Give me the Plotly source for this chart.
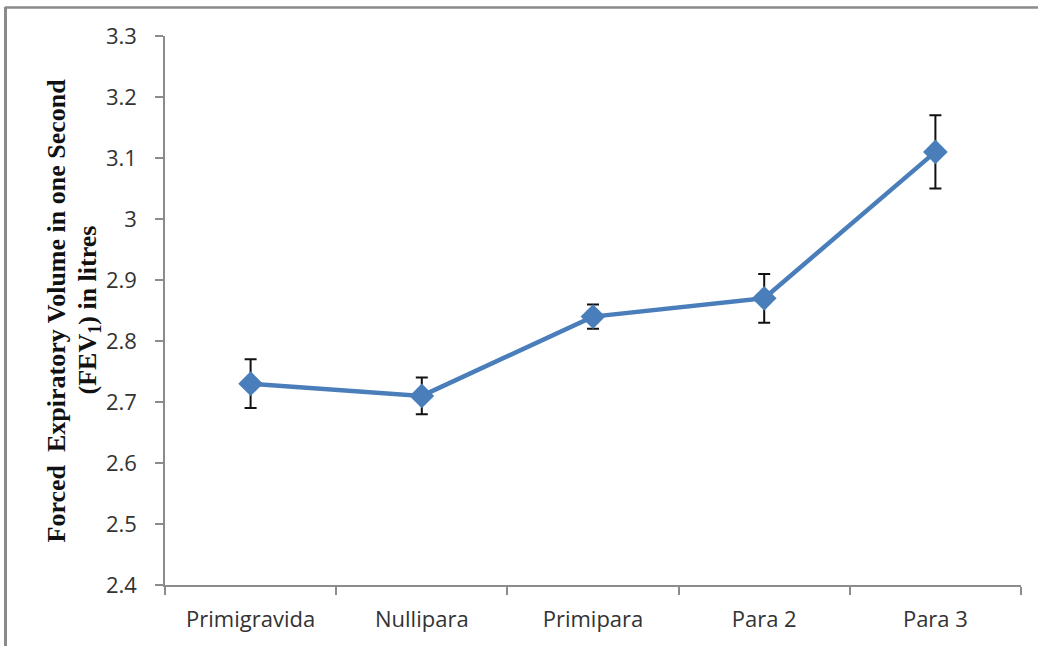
import plotly.graph_objects as go

categories = ["Primigravida", "Nullipara", "Primipara", "Para 2", "Para 3"]
fev1 = [2.73, 2.71, 2.84, 2.87, 3.11]
err = [0.04, 0.03, 0.02, 0.04, 0.06]
y_ticks = [2.4, 2.5, 2.6, 2.7, 2.8, 2.9, 3.0, 3.1, 3.2, 3.3]
y_tick_labels = ["2.4", "2.5", "2.6", "2.7", "2.8", "2.9", "3", "3.1", "3.2", "3.3"]
title_line1 = "Forced  Expiratory Volume in one Second"
title_line2 = "(FEV<sub>1</sub>) in litres"

W, H = 1038, 646
ml, mr, mt, mb = 165, 17, 36, 61
pw = W - ml - mr
ph = H - mt - mb

fig = go.Figure()
fig.add_trace(go.Scatter(
    x=categories, y=fev1, mode="lines+markers",
    line=dict(color="#4a7ebb", width=4.5),
    marker=dict(symbol="diamond", size=19, color="#4a7ebb"),
    error_y=dict(type="data", array=err, visible=True, color="#111111", thickness=2, width=6),
    showlegend=False,
))

axis_col = "#8c8c8c"
tick_font = dict(family="'Open Sans', sans-serif", size=22, color="#333333")

fig.update_xaxes(
    type="category", showline=True, linecolor=axis_col, linewidth=1.5,
    ticks="outside", tickson="boundaries", ticklen=8, tickcolor=axis_col, tickwidth=1.5,
    showgrid=False, tickfont=tick_font, range=[-0.5, 4.5], zeroline=False,
    ticklabelstandoff=14,
)
fig.update_yaxes(
    range=[2.4, 3.3], tickvals=y_ticks, ticktext=y_tick_labels,
    showline=True, linecolor=axis_col, linewidth=1.5,
    ticks="outside", ticklen=8, tickcolor=axis_col, tickwidth=1.5,
    showgrid=False, zeroline=False, tickfont=tick_font, ticklabelstandoff=14,
)

title_font = dict(family="'Liberation Serif', 'Times New Roman', serif", size=26, color="#111111")
fig.add_annotation(
    xref="paper", yref="paper", x=(56 - ml) / pw, y=0.5,
    text="<b>" + title_line1 + "</b>",
    textangle=-90, showarrow=False, xanchor="center", yanchor="middle", font=title_font,
)
fig.add_annotation(
    xref="paper", yref="paper", x=(88 - ml) / pw, y=0.5,
    text="<b>" + title_line2 + "</b>",
    textangle=-90, showarrow=False, xanchor="center", yanchor="middle", font=title_font,
)

# outer frame lines (top and left)
fig.add_shape(type="line", xref="paper", yref="paper",
              x0=(5 - ml) / pw, x1=(W - ml) / pw, y0=(H - mb - 7.5) / ph, y1=(H - mb - 7.5) / ph,
              line=dict(color="#8a8a8a", width=2.5))
fig.add_shape(type="line", xref="paper", yref="paper",
              x0=(5.5 - ml) / pw, x1=(5.5 - ml) / pw, y0=(H - mb - 7) / ph, y1=(-mb - 5) / ph,
              line=dict(color="#8a8a8a", width=3))

fig.update_layout(
    width=W, height=H, margin=dict(l=ml, r=mr, t=mt, b=mb),
    paper_bgcolor="white", plot_bgcolor="white",
)

fig.write_html("out.html", config={"displayModeBar": False},
               post_script="document.body.style.margin='0px';document.body.style.overflow='hidden';")
